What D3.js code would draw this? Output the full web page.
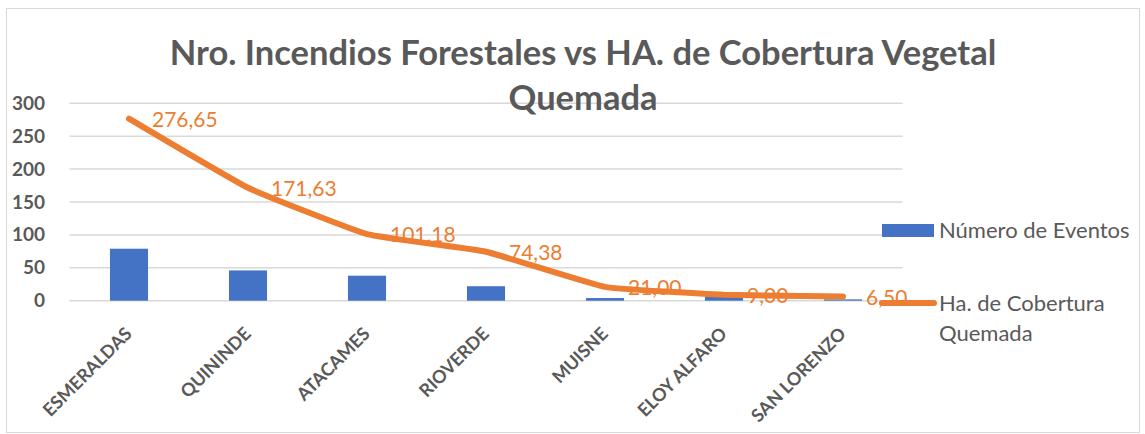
<!DOCTYPE html>
<html>
<head>
<meta charset="utf-8">
<script src="https://cdn.jsdelivr.net/npm/d3@7"></script>
<style>
  body { margin: 0; background: #fff; }
  svg, svg text { font-family: Lato, Carlito, "Open Sans", sans-serif; }
</style>
</head>
<body>
<div id="app"></div>
<script>
// data
const cantones = ['ESMERALDAS', 'QUININDE', 'ATACAMES', 'RIOVERDE', 'MUISNE', 'ELOY ALFARO', 'SAN LORENZO']
const eventos = [79, 46, 38, 22, 4, 6, 2]
const hectareas = [276.65, 171.63, 101.18, 74.38, 21.00, 9.00, 6.50]
const yTicks = [0, 50, 100, 150, 200, 250, 300]
const titleLines = ['Nro. Incendios Forestales vs HA. de Cobertura Vegetal', 'Quemada']
const legendNames = ['Número de Eventos', 'Ha. de Cobertura Quemada']

const W = 1145, H = 434
const grey = '#595959'
const blue = '#4472C4'
const orange = '#ED7D31'

const svg = d3.select('#app').append('svg')
    .attr('width', W)
    .attr('height', H)

// chart border
svg.append('rect')
    .attr('x', 6.5).attr('y', 8.5)
    .attr('width', 1133).attr('height', 424)
    .attr('fill', 'none')
    .attr('stroke', '#d9d9d9')

const x = d3.scaleBand()
    .domain(cantones)
    .range([69.5, 902.5])
    .paddingInner(0.68)
    .paddingOuter(0.34)

const y = d3.scaleLinear()
    .domain([0, 300])
    .range([300.7, 103.3])

// gridlines
svg.append('g')
    .selectAll('line')
    .data(yTicks)
    .join('line')
        .attr('x1', 69.5)
        .attr('x2', 902.5)
        .attr('y1', d => y(d))
        .attr('y2', d => y(d))
        .attr('stroke', '#d9d9d9')
        .attr('stroke-width', 1.5)

// y axis labels
const yAxis = d3.axisLeft(y).tickValues(yTicks).tickSize(0).tickPadding(0)
svg.append('g')
    .attr('transform', 'translate(45,0)')
    .call(yAxis)
    .attr('font-family', null)
    .call(g => g.select('.domain').remove())
    .selectAll('text')
        .attr('fill', grey)
        .style('font-size', '19px')
        .style('font-weight', 'bold')

// x axis labels, rotated
const xAxis = d3.axisBottom(x).tickSize(0).tickPadding(0)
svg.append('g')
    .attr('transform', 'translate(0,300)')
    .call(xAxis)
    .attr('font-family', null)
    .call(g => g.select('.domain').remove())
    .selectAll('text')
        .attr('fill', grey)
        .style('font-size', '18px')
        .style('font-weight', 'bold')
        .attr('text-anchor', 'end')
        .attr('dy', null)
        .attr('transform', 'translate(4,35) rotate(-45)')

// title
svg.append('g')
    .selectAll('text')
    .data(titleLines)
    .join('text')
        .attr('x', 583)
        .attr('y', (d, i) => 65 + i * 45)
        .attr('text-anchor', 'middle')
        .attr('fill', grey)
        .style('font-size', '34.5px')
        .style('font-weight', 'bold')
        .text(d => d)

// bars
svg.append('g')
    .selectAll('rect')
    .data(eventos)
    .join('rect')
        .attr('x', (d, i) => x(cantones[i]))
        .attr('width', x.bandwidth())
        .attr('y', d => y(d))
        .attr('height', d => y(0) - y(d))
        .attr('fill', blue)

const cx = (i) => x(cantones[i]) + x.bandwidth() / 2

// data labels (drawn under the line, as in the picture)
svg.append('g')
    .selectAll('text')
    .data(hectareas)
    .join('text')
        .attr('x', (d, i) => cx(i) + 23)
        .attr('y', d => y(d) + 1)
        .attr('dy', '0.35em')
        .attr('fill', orange)
        .style('font-size', '21px')
        .text(d => d3.format('.2f')(d).replace('.', ','))

const line = d3.line()
    .x((d, i) => cx(i))
    .y(d => y(d))
    .curve(d3.curveCardinal.tension(0.65))

svg.append('path')
    .datum(hectareas)
    .attr('d', line)
    .attr('fill', 'none')
    .attr('stroke', orange)
    .attr('stroke-width', 6)
    .attr('stroke-linecap', 'round')
    .attr('stroke-linejoin', 'round')

// legend
const lg = svg.append('g')
lg.append('rect')
    .attr('x', 882).attr('y', 224)
    .attr('width', 52).attr('height', 13)
    .attr('fill', blue)
lg.append('text')
    .attr('x', 939).attr('y', 230)
    .attr('dy', '0.35em')
    .attr('fill', grey)
    .style('font-size', '22px')
    .text(legendNames[0])
lg.append('line')
    .attr('x1', 882).attr('x2', 934)
    .attr('y1', 303).attr('y2', 303)
    .attr('stroke', orange)
    .attr('stroke-width', 6)
    .attr('stroke-linecap', 'round')
lg.append('text')
    .attr('x', 939).attr('y', 303)
    .attr('fill', grey)
    .style('font-size', '22px')
    .selectAll('tspan')
    .data(['Ha. de Cobertura', 'Quemada'])
    .join('tspan')
        .attr('x', 939)
        .attr('dy', (d, i) => i === 0 ? '0.35em' : '30px')
        .text(d => d)
</script>
</body>
</html>
